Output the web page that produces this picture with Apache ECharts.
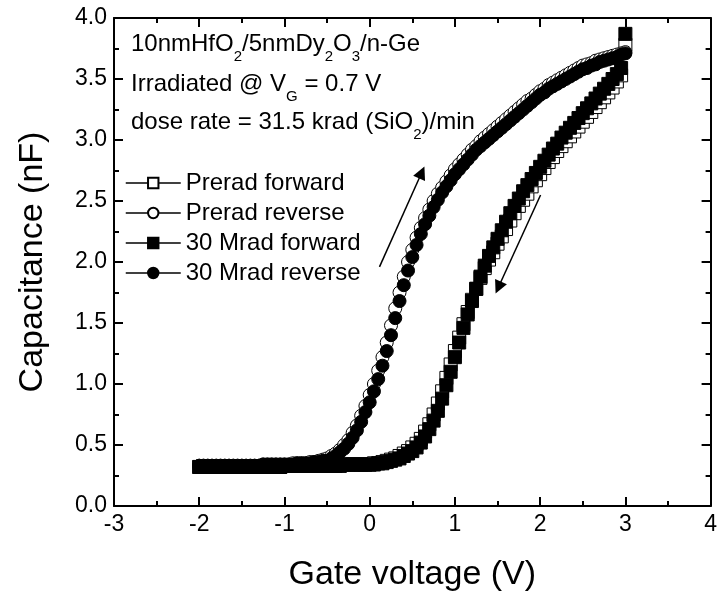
<!DOCTYPE html>
<html>
<head>
<meta charset="utf-8">
<script src="https://cdn.jsdelivr.net/npm/echarts@6/dist/echarts.min.js"></script>
<style>
html,body{margin:0;padding:0;background:#fff;}
#chart{width:720px;height:600px;}
</style>
</head>
<body>
<div id="chart"></div>
<script>
// Gate voltage sweep (V)
const voltage = [
-2.00,-1.95,-1.90,-1.85,-1.80,-1.75,-1.70,-1.65,-1.60,-1.55,
-1.50,-1.45,-1.40,-1.35,-1.30,-1.25,-1.20,-1.15,-1.10,-1.05,
-1.00,-0.95,-0.90,-0.85,-0.80,-0.75,-0.70,-0.65,-0.60,-0.55,
-0.50,-0.45,-0.40,-0.35,-0.30,-0.25,-0.20,-0.15,-0.10,-0.05,
0.00,0.05,0.10,0.15,0.20,0.25,0.30,0.35,0.40,0.45,
0.50,0.55,0.60,0.65,0.70,0.75,0.80,0.85,0.90,0.95,
1.00,1.05,1.10,1.15,1.20,1.25,1.30,1.35,1.40,1.45,
1.50,1.55,1.60,1.65,1.70,1.75,1.80,1.85,1.90,1.95,
2.00,2.05,2.10,2.15,2.20,2.25,2.30,2.35,2.40,2.45,
2.50,2.55,2.60,2.65,2.70,2.75,2.80,2.85,2.90,2.95,
3.00];

// Capacitance (nF)
const preradForward = [
0.32,0.32,0.32,0.32,0.32,0.32,0.32,0.32,0.32,0.32,
0.32,0.32,0.32,0.32,0.32,0.32,0.32,0.32,0.32,0.32,
0.33,0.33,0.33,0.33,0.33,0.33,0.33,0.33,0.33,0.33,
0.33,0.33,0.33,0.33,0.34,0.34,0.34,0.34,0.34,0.34,
0.34,0.35,0.35,0.36,0.37,0.38,0.39,0.41,0.43,0.45,
0.48,0.51,0.55,0.61,0.67,0.75,0.84,0.94,1.05,1.16,
1.27,1.38,1.49,1.59,1.69,1.78,1.87,1.95,2.02,2.08,
2.15,2.21,2.27,2.34,2.40,2.46,2.51,2.56,2.62,2.67,
2.72,2.77,2.82,2.86,2.91,2.95,2.99,3.03,3.07,3.11,
3.15,3.19,3.23,3.27,3.31,3.35,3.39,3.43,3.48,3.53,
3.78];

const preradReverse = [
0.33,0.33,0.33,0.33,0.33,0.33,0.33,0.33,0.33,0.33,
0.33,0.33,0.33,0.33,0.33,0.34,0.34,0.34,0.34,0.34,
0.34,0.34,0.35,0.35,0.35,0.35,0.36,0.36,0.37,0.38,
0.39,0.41,0.43,0.46,0.50,0.54,0.60,0.66,0.74,0.82,
0.91,1.00,1.11,1.22,1.34,1.48,1.62,1.75,1.88,2.00,
2.10,2.20,2.28,2.36,2.43,2.50,2.56,2.61,2.66,2.71,
2.76,2.80,2.84,2.88,2.92,2.95,2.99,3.02,3.05,3.08,
3.11,3.14,3.17,3.20,3.23,3.26,3.29,3.32,3.34,3.37,
3.40,3.42,3.45,3.47,3.49,3.51,3.53,3.55,3.57,3.59,
3.61,3.62,3.63,3.65,3.66,3.67,3.68,3.69,3.70,3.71,
3.72];

const mrad30Forward = [
0.32,0.32,0.32,0.32,0.32,0.32,0.32,0.32,0.32,0.32,
0.32,0.32,0.32,0.32,0.32,0.32,0.32,0.32,0.32,0.32,
0.33,0.33,0.33,0.33,0.33,0.33,0.33,0.33,0.33,0.33,
0.33,0.33,0.33,0.33,0.34,0.34,0.34,0.34,0.34,0.34,
0.34,0.34,0.35,0.35,0.36,0.37,0.38,0.39,0.41,0.43,
0.45,0.48,0.52,0.57,0.63,0.70,0.78,0.88,0.99,1.10,
1.22,1.34,1.46,1.57,1.68,1.78,1.88,1.97,2.05,2.12,
2.19,2.26,2.33,2.40,2.46,2.52,2.58,2.63,2.68,2.73,
2.78,2.83,2.88,2.93,2.97,3.02,3.06,3.10,3.14,3.18,
3.22,3.26,3.30,3.34,3.38,3.42,3.46,3.50,3.54,3.59,
3.87];

const mrad30Reverse = [
0.33,0.33,0.33,0.33,0.33,0.33,0.33,0.33,0.33,0.33,
0.33,0.33,0.33,0.33,0.33,0.34,0.34,0.34,0.34,0.34,
0.34,0.34,0.34,0.35,0.35,0.35,0.35,0.36,0.36,0.37,
0.37,0.39,0.41,0.44,0.47,0.51,0.56,0.62,0.69,0.77,
0.85,0.94,1.04,1.15,1.27,1.40,1.54,1.68,1.81,1.93,
2.04,2.14,2.23,2.31,2.38,2.45,2.51,2.57,2.62,2.67,
2.72,2.76,2.80,2.84,2.88,2.92,2.95,2.98,3.01,3.04,
3.07,3.10,3.13,3.16,3.19,3.22,3.25,3.28,3.31,3.34,
3.37,3.39,3.42,3.44,3.46,3.48,3.50,3.52,3.54,3.56,
3.58,3.59,3.61,3.62,3.64,3.65,3.66,3.67,3.68,3.70,
3.71];

const seriesNames = ['Prerad forward', 'Prerad reverse', '30 Mrad forward', '30 Mrad reverse'];

// Sweep-direction arrows (data coordinates: [V, nF])
const arrowUp = [[0.115, 1.96], [0.611, 2.734]];
const arrowDown = [[2.005, 2.549], [1.509, 1.791]];

const FONT = "'Liberation Sans', Arial, sans-serif";
const pts = arr => voltage.map((v, i) => [v, arr[i]]);

const chart = echarts.init(document.getElementById('chart'), null, {renderer: 'canvas'});

function axisCommon(show) {
  return {
    axisLine: {show: true, onZero: false, lineStyle: {color: '#000', width: 2}},
    axisTick: {show: true, inside: true, length: 9, lineStyle: {color: '#000', width: 2}},
    minorTick: {show: true, splitNumber: 2, length: 5, lineStyle: {color: '#000', width: 2}},
    splitLine: {show: false},
    axisLabel: {show: show}
  };
}

const subStyle = {fontSize: 15, lineHeight: 16, padding: [17, 0, 0, 0], verticalAlign: 'top', fontFamily: FONT, fill: '#000'};
const mainStyle = {fontSize: 24, lineHeight: 26, verticalAlign: 'top', fontFamily: FONT, fill: '#000'};
function richText(x, y, text) {
  return {
    type: 'text', x: x, y: y, z: 0, silent: true,
    style: {text: text, verticalAlign: 'top', align: 'left', rich: {m: mainStyle, s: subStyle}}
  };
}

const makeSeries = (name, arr, symbol, open, z) => ({
  name: name,
  type: 'line',
  data: pts(arr),
  symbol: symbol,
  symbolSize: 13,
  showSymbol: true,
  showAllSymbol: true,
  z: z,
  lineStyle: {color: '#000', width: 1.5, opacity: 0},
  itemStyle: {color: open ? '#fff' : '#000', borderColor: '#000', borderWidth: 1, opacity: 1},
  emphasis: {disabled: true},
  animation: false
});

const s4 = makeSeries(seriesNames[3], mrad30Reverse, 'circle', false, 5);
s4.markLine = {
  silent: true,
  animation: false,
  symbol: ['none', 'triangle'],
  symbolSize: 13,
  label: {show: false},
  lineStyle: {color: '#000', width: 1.5, type: 'solid'},
  emphasis: {disabled: true},
  data: [
    [{coord: arrowUp[0]}, {coord: arrowUp[1]}],
    [{coord: arrowDown[0]}, {coord: arrowDown[1]}]
  ]
};

chart.setOption({
  backgroundColor: '#fff',
  animation: false,
  textStyle: {fontFamily: FONT, color: '#000'},
  grid: {left: 114, right: 6, top: 18, bottom: 94, containLabel: false},
  xAxis: [
    Object.assign(axisCommon(true), {
      type: 'value', position: 'bottom', min: -3, max: 4, interval: 1,
      name: 'Gate voltage (V)', nameLocation: 'middle', nameGap: 52,
      nameTextStyle: {fontSize: 34, color: '#000', fontFamily: FONT},
      axisLabel: {show: true, fontSize: 23, color: '#000', margin: 7, fontFamily: FONT}
    }),
    Object.assign(axisCommon(false), {type: 'value', position: 'top', min: -3, max: 4, interval: 1})
  ],
  yAxis: [
    Object.assign(axisCommon(true), {
      type: 'value', position: 'left', min: 0, max: 4, interval: 0.5,
      name: 'Capacitance (nF)', nameLocation: 'middle', nameGap: 64, nameRotate: 90,
      nameTextStyle: {fontSize: 34, color: '#000', fontFamily: FONT},
      axisLabel: {show: true, fontSize: 23, color: '#000', margin: 7, fontFamily: FONT,
        formatter: v => v.toFixed(1)}
    }),
    Object.assign(axisCommon(false), {type: 'value', position: 'right', min: 0, max: 4, interval: 0.5})
  ],
  legend: {
    data: seriesNames,
    orient: 'vertical',
    left: 120,
    top: 166,
    itemWidth: 55,
    itemHeight: 13,
    itemGap: 6,
    selectedMode: false,
    textStyle: {fontSize: 24, lineHeight: 24, color: '#000', fontFamily: FONT},
    lineStyle: {color: '#000', width: 1.5, opacity: 1}
  },
  graphic: [
    richText(131, 32, '{m|10nmHfO}{s|2}{m|/5nmDy}{s|2}{m|O}{s|3}{m|/n-Ge}'),
    richText(131, 72, '{m|Irradiated @ V}{s|G}{m| = 0.7 V}'),
    richText(131, 110, '{m|dose rate = 31.5 krad (SiO}{s|2}{m|)/min}')
  ],
  series: [
    makeSeries(seriesNames[0], preradForward, 'rect', true, 2),
    makeSeries(seriesNames[1], preradReverse, 'circle', true, 3),
    makeSeries(seriesNames[2], mrad30Forward, 'rect', false, 4),
    s4
  ]
});
</script>
</body>
</html>
